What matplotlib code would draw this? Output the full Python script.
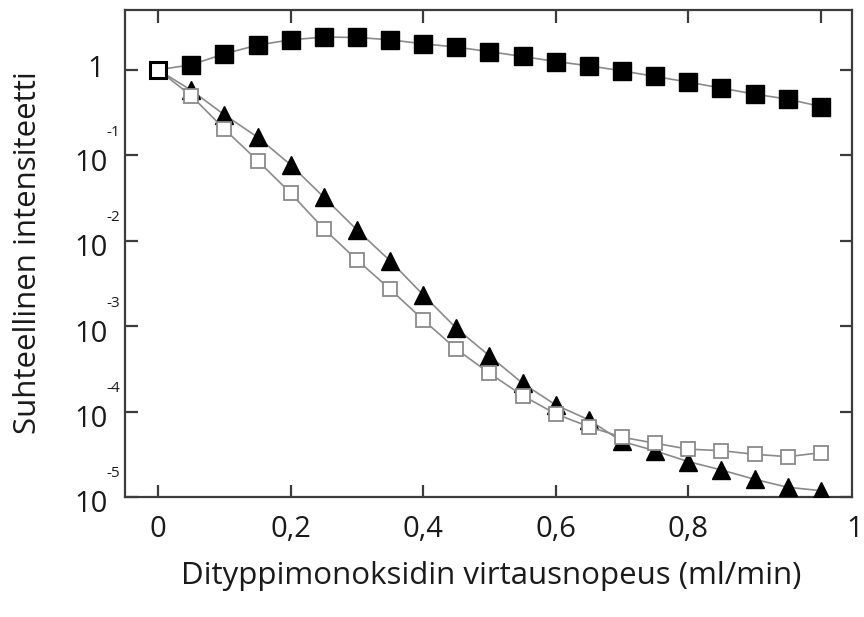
import numpy as np
import matplotlib
matplotlib.use("Agg")
import matplotlib.pyplot as plt

plt.rcParams['font.family'] = ['Open Sans', 'DejaVu Sans']

# virtausnopeus (ml/min)
x = [0.0, 0.05, 0.10, 0.15, 0.20, 0.25, 0.30, 0.35, 0.40, 0.45, 0.50,
     0.55, 0.60, 0.65, 0.70, 0.75, 0.80, 0.85, 0.90, 0.95, 1.00]

# log10 of relative intensity
log_filled_sq = [0.0, 0.059, 0.187, 0.289, 0.351, 0.383, 0.379, 0.351, 0.304, 0.266, 0.212,
                 0.156, 0.097, 0.047, -0.012, -0.078, -0.144, -0.214, -0.285, -0.343, -0.43]
log_triangle = [0.0, -0.24, -0.527, -0.788, -1.112, -1.491, -1.874, -2.235, -2.635, -3.025, -3.349,
                -3.669, -3.923, -4.098, -4.35, -4.46, -4.586, -4.684, -4.793, -4.886, -4.926]
log_open_sq = [0.0, -0.304, -0.695, -1.062, -1.444, -1.862, -2.225, -2.568, -2.927, -3.27, -3.552,
               -3.813, -4.028, -4.177, -4.30, -4.371, -4.44, -4.458, -4.50, -4.528, -4.481]

xticks = [0, 0.2, 0.4, 0.6, 0.8, 1.0]
xticklabels = ['0', '0,2', '0,4', '0,6', '0,8']
decades = [-1, -2, -3, -4, -5]

filled_sq = 10 ** np.array(log_filled_sq)
triangle = 10 ** np.array(log_triangle)
open_sq = 10 ** np.array(log_open_sq)

fig = plt.figure(figsize=(8.64, 6.17), dpi=100)
ax = fig.add_axes([0.1447, 0.1945, 0.8414, 0.7893])

line_c = '#8a8a8a'
ax.plot(x, filled_sq, color=line_c, lw=1.2, marker='s', ms=12.5, mfc='black', mec='black',
        markevery=slice(1, None), zorder=3)
ax.plot(x, triangle, color=line_c, lw=1.2, marker='^', ms=13.5, mfc='black', mec='black',
        markevery=slice(1, None), zorder=4)
ax.plot(x, open_sq, color=line_c, lw=1.2, marker='s', ms=10.5, mfc='white', mec=line_c, mew=1.3,
        markevery=slice(1, None), zorder=5)
ax.plot(x[0], 1.0, marker='s', ms=12, mfc='white', mec='black', mew=2.2, zorder=6)

ax.set_yscale('log')
ax.set_xlim(-0.05, 1.047)
ax.set_ylim(1e-5, 10 ** 0.70)

spine_c = '#3c3c3c'
for s in ax.spines.values():
    s.set_color(spine_c)
    s.set_linewidth(1.6)

ax.set_xticks(xticks)
ax.set_xticklabels([])
ax.set_yticks([10.0 ** d for d in [0] + decades])
ax.set_yticklabels([])
ax.yaxis.set_minor_locator(matplotlib.ticker.NullLocator())
ax.tick_params(which='both', direction='in', length=9, width=1.6, color=spine_c,
               top=True, right=True)

fs = 21
tc = '#1a1a1a'
for xv, lab in zip(xticks, xticklabels):
    ax.annotate(lab, xy=(xv, 0), xycoords=('data', 'axes fraction'), xytext=(0, -33),
                textcoords='offset pixels', ha='center', va='center', fontsize=fs, color=tc)
ax.annotate('1', xy=(1, 0), xycoords='axes fraction', xytext=(3, -33),
            textcoords='offset pixels', ha='center', va='center', fontsize=fs, color=tc)

ax.annotate('1', xy=(0, 1.0), xycoords=('axes fraction', 'data'), xytext=(-21, 0),
            textcoords='offset pixels', ha='right', va='center', fontsize=fs, color=tc)
for d in decades:
    ax.annotate('10', xy=(0, 10.0 ** d), xycoords=('axes fraction', 'data'), xytext=(-17, -8),
                textcoords='offset pixels', ha='right', va='center', fontsize=fs, color=tc)
    ax.annotate(str(d), xy=(0, 10.0 ** d), xycoords=('axes fraction', 'data'), xytext=(-19, 23),
                textcoords='offset pixels', ha='left', va='center', fontsize=11, color=tc)

fig.text(0.568, 0.066, 'Dityppimonoksidin virtausnopeus (ml/min)', ha='center', va='center',
         fontsize=22.5, color=tc)
fig.text(0.032, 0.59, 'Suhteellinen intensiteetti', ha='center', va='center', rotation=90,
         fontsize=22.5, color=tc)

fig.savefig('out.png', dpi=100)
